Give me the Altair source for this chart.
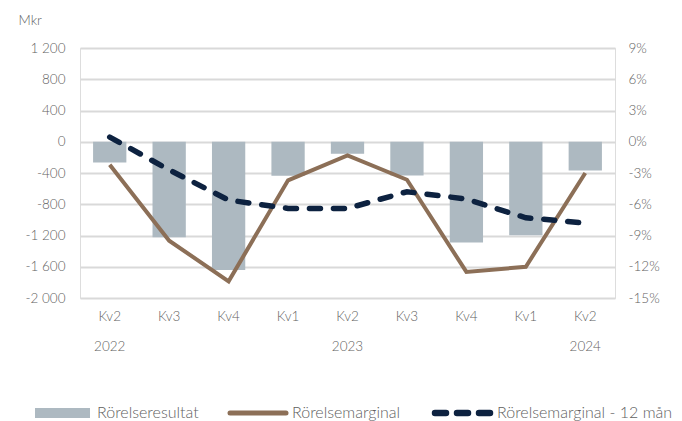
import altair as alt
import pandas as pd

quarters = ["Kv2", "Kv3", "Kv4", "Kv1", "Kv2", "Kv3", "Kv4", "Kv1", "Kv2"]
years = ["2022", "2022", "2022", "2023", "2023", "2023", "2023", "2024", "2024"]
year_labels = ["2022", "", "", "", "2023", "", "", "", "2024"]
rorelseresultat = [-265, -1222, -1641, -436, -154, -432, -1290, -1197, -368]
rorelsemarginal = [-0.022, -0.095, -0.134, -0.037, -0.013, -0.0365, -0.125, -0.120, -0.030]
marginal_12 = [0.0045, -0.027, -0.056, -0.064, -0.064, -0.048, -0.055, -0.073, -0.078]
legend_labels = ["Rörelseresultat", "Rörelsemarginal", "Rörelsemarginal - 12 mån"]
pct_ticks = [-0.15, -0.12, -0.09, -0.06, -0.03, 0, 0.03, 0.06, 0.09]
mkr_ticks = [-2000, -1600, -1200, -800, -400, 0, 400, 800, 1200]

keys = [f"{q} {y}" for q, y in zip(quarters, years)]
label_map = {k: [q, yl] for k, q, yl in zip(keys, quarters, year_labels)}

df = pd.DataFrame({
    "key": keys,
    "res": rorelseresultat,
    "marg": rorelsemarginal,
    "m12": marginal_12,
})

FONT = "Lato"
GREY = "#5f5f5f"
BAR = "#adb9c1"
BROWN = "#8c6f57"
NAVY = "#0d2240"
LW = 300

label_expr = " : ".join(
    [f"datum.value == '{k}' ? ['{v[0]}', '{v[1]}']" for k, v in label_map.items()]
) + " : datum.value"

x = alt.X("key:N", sort=keys, title=None,
          scale=alt.Scale(paddingInner=0.44, paddingOuter=0.22),
          axis=alt.Axis(labelExpr=label_expr, labelAngle=0, domain=False, ticks=False,
                        labelPadding=11, labelLineHeight=30, labelFontSize=13.5,
                        labelFontWeight=LW,
                        labelColor=GREY, labelFont=FONT, grid=False))

bars = alt.Chart(df).mark_bar(color=BAR).encode(
    x=x,
    y=alt.Y("res:Q", title="Mkr",
            scale=alt.Scale(domain=[-2000, 1200], nice=False),
            axis=alt.Axis(values=mkr_ticks, domain=False, ticks=False,
                          labelExpr="(datum.value < 0 ? '-' : '') + replace(format(abs(datum.value), ','), ',', ' ')",
                          labelPadding=15, labelFontSize=13.5, labelColor=GREY, labelFont=FONT,
                          labelFontWeight=LW,
                          gridColor="#d9d9d9", gridWidth=2,
                          titleAngle=0, titleAlign="left", titleBaseline="middle",
                          titleX=-62, titleY=-28, titleFontSize=13.5, titleFontWeight=LW,
                          titleColor=GREY, titleFont=FONT)),
)

pct_scale = alt.Scale(domain=[-0.15, 0.09], nice=False)
pct_axis = alt.Axis(orient="right", values=pct_ticks,
                    domain=False, ticks=False, grid=False, title=None,
                    labelExpr="(datum.value < -0.0001 ? '-' : '') + format(abs(datum.value), '.0%')",
                    labelPadding=13, labelFontSize=13.5, labelColor=GREY, labelFont=FONT,
                    labelFontWeight=LW)
brown = alt.Chart(df).mark_line(color=BROWN, strokeWidth=4).encode(
    x=alt.X("key:N", sort=keys),
    y=alt.Y("marg:Q", scale=pct_scale, axis=pct_axis),
)
dashed = alt.Chart(df).mark_line(color=NAVY, strokeWidth=5.5, strokeDash=[11, 13],
                                 strokeCap="round").encode(
    x=alt.X("key:N", sort=keys),
    y=alt.Y("m12:Q", scale=pct_scale, axis=pct_axis),
)
lines = alt.layer(brown, dashed)

# manual legend (pixel layout below the plot)
leg = pd.DataFrame({"t": legend_labels})
LY = 365
sw1 = alt.Chart(leg).transform_filter(alt.datum.t == legend_labels[0]).mark_rect(color=BAR).encode(
    x=alt.value(-45), x2=alt.value(10), y=alt.value(LY - 5), y2=alt.value(LY + 5))
sw2 = alt.Chart(leg).transform_filter(alt.datum.t == legend_labels[1]).mark_rule(
    color=BROWN, strokeWidth=5, strokeCap="round").encode(
    x=alt.value(150), x2=alt.value(206), y=alt.value(LY))
sw3 = alt.Chart(leg).transform_filter(alt.datum.t == legend_labels[2]).mark_rule(
    color=NAVY, strokeWidth=6.5, strokeCap="round", strokeDash=[11, 11]).encode(
    x=alt.value(355), x2=alt.value(410), y=alt.value(LY))
texts = []
for lbl, xp in zip(legend_labels, [17, 212, 417]):
    texts.append(
        alt.Chart(leg).transform_filter(alt.datum.t == lbl).mark_text(
            align="left", baseline="middle", fontSize=16, font=FONT, fontWeight=LW,
            color=GREY).encode(
            text="t:N", x=alt.value(xp), y=alt.value(LY))
    )
legend = alt.layer(sw1, sw2, sw3, *texts)

chart = alt.layer(bars, lines, legend).resolve_scale(y="independent").properties(
    width=535, height=250,
    autosize=alt.AutoSizeParams(type="none"),
    padding={"left": 80, "top": 48, "right": 67, "bottom": 123},
).configure_view(stroke=None).configure(background="white")

chart.save("out.html", embed_options={"renderer": "svg", "actions": False})
